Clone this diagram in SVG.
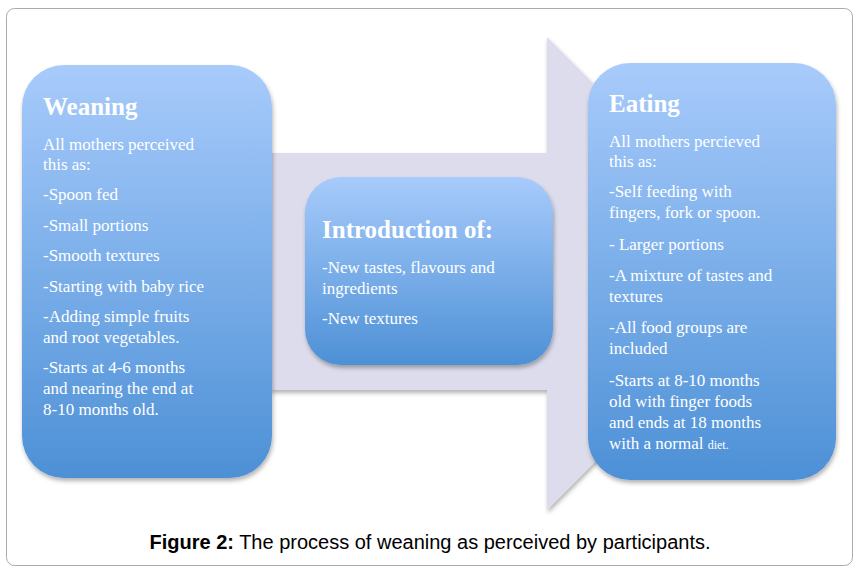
<svg xmlns="http://www.w3.org/2000/svg" width="860" height="572" viewBox="0 0 860 572">
<defs>
<linearGradient id="g" x1="0" y1="0" x2="0" y2="1">
<stop offset="0" stop-color="#a8cbfb"/><stop offset="0.5" stop-color="#7aaee9"/><stop offset="1" stop-color="#4d90d6"/>
</linearGradient>
<filter id="sh" x="-10%" y="-10%" width="120%" height="120%"><feDropShadow dx="1" dy="3" stdDeviation="2" flood-color="#000" flood-opacity="0.3"/></filter>
</defs>
<style>
.box{fill:url(#g);filter:url(#sh)}
.t{font-family:"Liberation Serif","DejaVu Serif",serif;fill:#fff;font-size:17px}
.h{font-family:"Liberation Serif","DejaVu Serif",serif;fill:#fff;font-size:25px;font-weight:bold}
.cap{font-family:"Liberation Sans",Arial,sans-serif;font-size:20px;fill:#000}
</style>
<rect x="6.5" y="8.5" width="846" height="557" rx="8" fill="#fff" stroke="#aaa"/>
<g id="connectors">
<path d="M270,153 H547 V37 L783,273 L547,510 V390 H270 Z" fill="#dcdcec" filter="url(#sh)"/>
</g>
<g id="weaning">
<rect class="box" x="22" y="65" width="250" height="413" rx="42"/>
<text class="h" x="43" y="115">Weaning</text>
<text class="t"><tspan x="43" y="150">All mothers perceived</tspan><tspan x="43" y="170">this as:</tspan><tspan x="43" y="200">-Spoon fed</tspan><tspan x="43" y="231">-Small portions</tspan><tspan x="43" y="261">-Smooth textures</tspan><tspan x="43" y="292">-Starting with baby rice</tspan><tspan x="43" y="322">-Adding simple fruits</tspan><tspan x="43" y="343">and root vegetables.</tspan><tspan x="43" y="373">-Starts at 4-6 months</tspan><tspan x="43" y="394">and nearing the end at</tspan><tspan x="43" y="415">8-10 months old.</tspan></text>
</g>
<g id="intro">
<rect class="box" x="305" y="177" width="248" height="188" rx="36"/>
<text class="h" x="322" y="238">Introduction of:</text>
<text class="t"><tspan x="322" y="273">-New tastes, flavours and</tspan><tspan x="322" y="294">ingredients</tspan><tspan x="322" y="324">-New textures</tspan></text>
</g>
<g id="eating">
<rect class="box" x="588" y="63" width="248" height="417" rx="42"/>
<text class="h" x="609" y="112">Eating</text>
<text class="t"><tspan x="609" y="147">All mothers percieved</tspan><tspan x="609" y="167">this as:</tspan><tspan x="609" y="197">-Self feeding with</tspan><tspan x="609" y="218">fingers, fork or spoon.</tspan><tspan x="609" y="250">- Larger portions</tspan><tspan x="609" y="281">-A mixture of tastes and</tspan><tspan x="609" y="302">textures</tspan><tspan x="609" y="333">-All food groups are</tspan><tspan x="609" y="354">included</tspan><tspan x="609" y="386">-Starts at 8-10 months</tspan><tspan x="609" y="407">old with finger foods</tspan><tspan x="609" y="428">and ends at 18 months</tspan><tspan x="609" y="449">with a normal <tspan font-size="12">diet.</tspan></tspan></text>
</g>
<text class="cap" x="430" y="549" text-anchor="middle"><tspan font-weight="bold">Figure 2:</tspan> The process of weaning as perceived by participants.</text>
</svg>
